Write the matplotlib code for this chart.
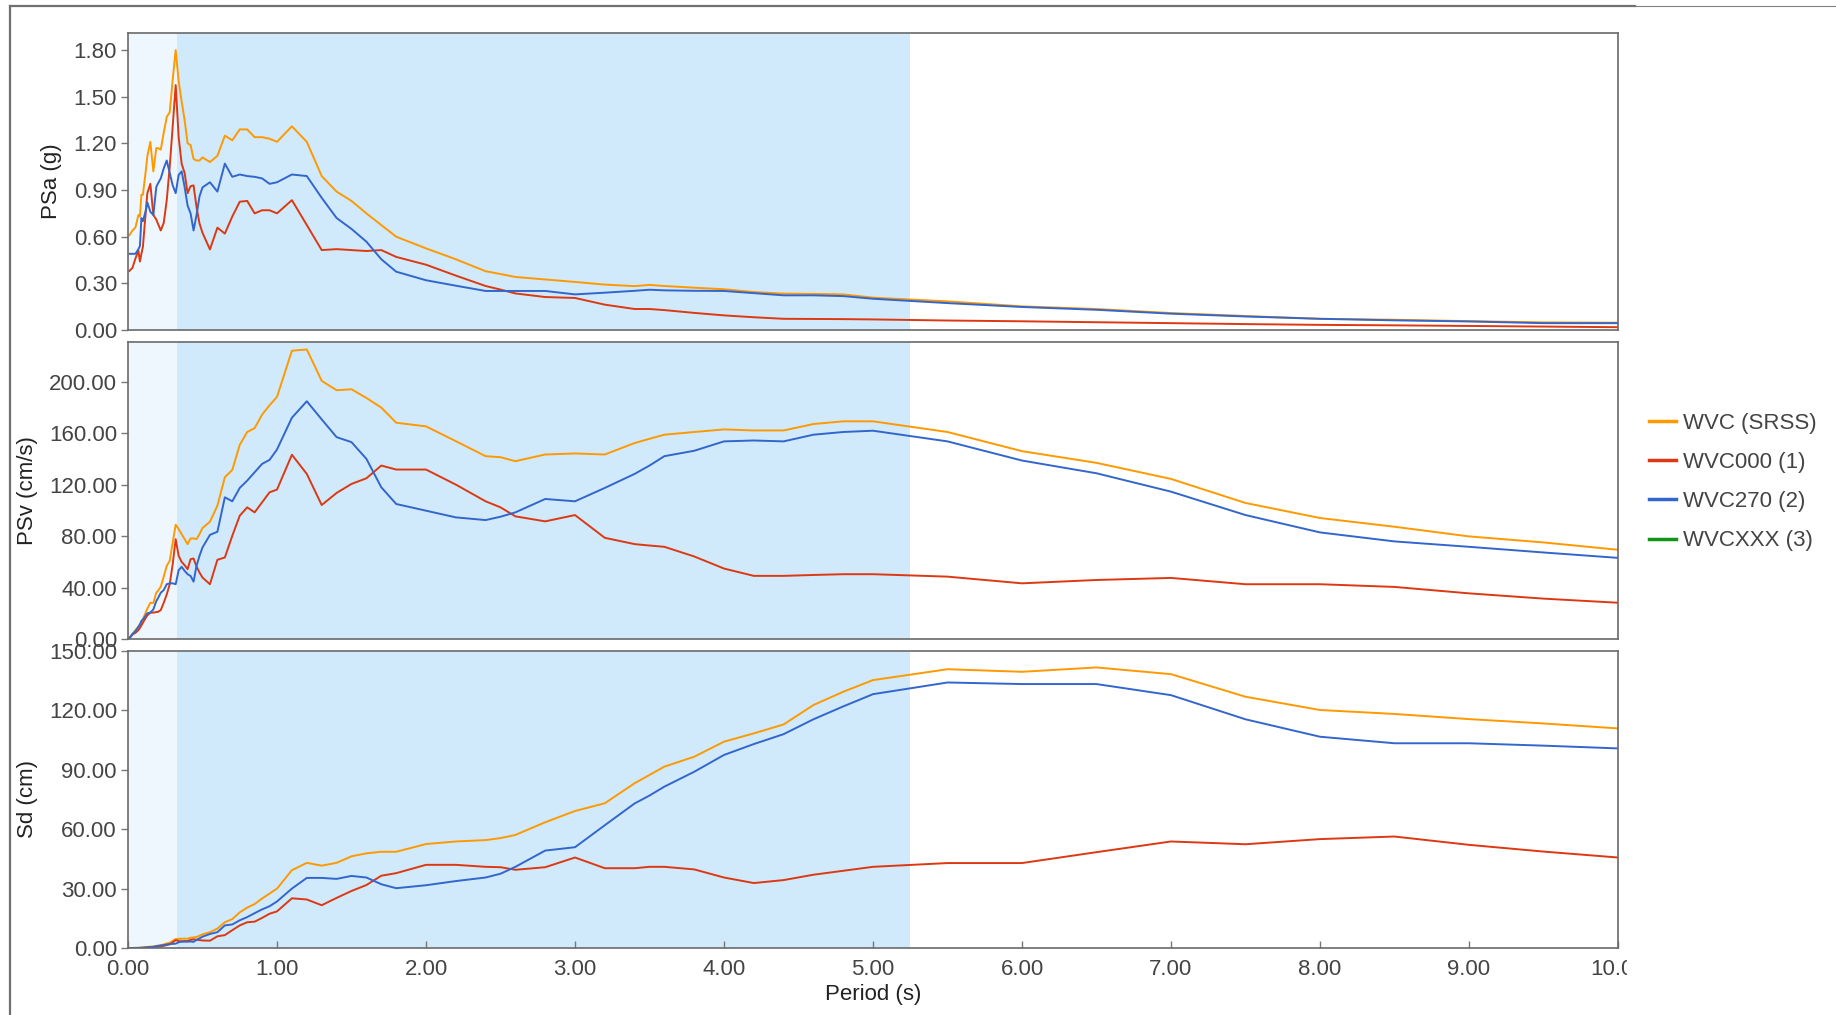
import matplotlib

matplotlib.use("Agg")
import matplotlib.pyplot as plt
from matplotlib.lines import Line2D
from matplotlib.transforms import Bbox, TransformedBbox

plt.rcParams["font.family"] = ["Liberation Sans", "DejaVu Sans"]

# periods (s) shared by every series
periods = [
    0.01, 0.03, 0.05, 0.07, 0.08, 0.09, 0.10, 0.12, 0.13, 0.15,
    0.17, 0.19, 0.20, 0.22, 0.24, 0.26, 0.28, 0.30, 0.32, 0.34,
    0.36, 0.38, 0.40, 0.42, 0.44, 0.46, 0.48, 0.50, 0.55, 0.60,
    0.65, 0.70, 0.75, 0.80, 0.85, 0.90, 0.95, 1.0, 1.1, 1.2,
    1.3, 1.4, 1.5, 1.6, 1.7, 1.8, 2.0, 2.2, 2.4, 2.5,
    2.6, 2.8, 3.0, 3.2, 3.4, 3.5, 3.6, 3.8, 4.0, 4.2,
    4.4, 4.6, 4.8, 5.0, 5.5, 6.0, 6.5, 7.0, 7.5, 8.0,
    8.5, 9.0, 9.5, 10.0,
]

# PSa (g)
psa_srss = [
    0.61, 0.64, 0.66, 0.74, 0.73, 0.87, 0.87, 1.03, 1.12, 1.21,
    1.02, 1.17, 1.17, 1.16, 1.27, 1.37, 1.40, 1.61, 1.80, 1.60,
    1.47, 1.35, 1.20, 1.19, 1.10, 1.09, 1.09, 1.11, 1.08, 1.12,
    1.25, 1.22, 1.29, 1.29, 1.24, 1.24, 1.23, 1.21, 1.31, 1.21,
    0.99, 0.89, 0.83, 0.75, 0.675, 0.60, 0.525, 0.455, 0.378, 0.36,
    0.341, 0.325, 0.309, 0.292, 0.282, 0.29, 0.283, 0.272, 0.262, 0.244,
    0.234, 0.232, 0.229, 0.208, 0.184, 0.152, 0.135, 0.109, 0.09, 0.072,
    0.066, 0.057, 0.049, 0.047,
]
psa_000 = [
    0.38, 0.40, 0.46, 0.51, 0.44, 0.49, 0.535, 0.77, 0.88, 0.94,
    0.74, 0.71, 0.686, 0.64, 0.69, 0.835, 1.05, 1.31, 1.575, 1.24,
    1.07, 1.01, 0.88, 0.925, 0.93, 0.79, 0.685, 0.625, 0.518, 0.658,
    0.62, 0.73, 0.825, 0.83, 0.75, 0.77, 0.77, 0.75, 0.835, 0.675,
    0.514, 0.52, 0.514, 0.508, 0.514, 0.47, 0.42, 0.35, 0.283, 0.26,
    0.235, 0.212, 0.206, 0.163, 0.135, 0.135, 0.128, 0.11, 0.094, 0.082,
    0.072, 0.071, 0.070, 0.068, 0.061, 0.056, 0.05, 0.044, 0.038, 0.033,
    0.03, 0.026, 0.022, 0.018,
]
psa_270 = [
    0.49, 0.49, 0.49, 0.52, 0.54, 0.72, 0.70, 0.77, 0.82, 0.76,
    0.74, 0.92, 0.94, 0.975, 1.04, 1.09, 1.01, 0.93, 0.88, 0.997,
    1.02, 0.92, 0.80, 0.75, 0.64, 0.74, 0.86, 0.917, 0.95, 0.89,
    1.07, 0.985, 1.00, 0.99, 0.985, 0.975, 0.94, 0.95, 1.00, 0.99,
    0.85, 0.72, 0.65, 0.568, 0.455, 0.375, 0.32, 0.285, 0.251, 0.251,
    0.251, 0.251, 0.229, 0.24, 0.252, 0.259, 0.255, 0.252, 0.251, 0.237,
    0.223, 0.223, 0.218, 0.201, 0.173, 0.148, 0.13, 0.105, 0.087, 0.072,
    0.062, 0.055, 0.044, 0.044,
]

# PSv (cm/s)
psv_srss = [
    0.9, 3.8, 7.0, 9.5, 11.3, 13.4, 15.2, 21.0, 23.6, 28.2,
    28.0, 36.0, 37.3, 40.7, 48.5, 56.9, 60.8, 75.0, 88.9, 85.5,
    81.6, 77.7, 73.8, 78.2, 78.2, 77.7, 81.6, 86.3, 91.2, 103.7,
    125.8, 131.5, 151.0, 161.0, 164.0, 174.5, 181.8, 188.3, 224.2, 225.2,
    200.8, 193.5, 194.2, 187.5, 180.0, 168.2, 165.4, 153.9, 142.2, 141.4,
    138.3, 143.5, 144.3, 143.5, 152.4, 155.7, 158.9, 161.0, 163.0, 162.2,
    162.2, 167.2, 169.3, 169.3, 161.0, 146.1, 137.0, 124.5, 105.8, 94.1,
    87.3, 79.8, 75.1, 69.4,
]
psv_000 = [
    0.6, 3.5, 4.8, 6.9, 8.7, 10.6, 12.7, 16.6, 18.4, 20.5,
    20.5, 21.0, 21.0, 22.5, 28.2, 34.7, 42.6, 58.2, 77.7, 64.7,
    60.0, 57.4, 54.3, 62.1, 62.6, 56.4, 51.7, 47.8, 42.6, 61.6,
    63.4, 80.3, 95.9, 102.4, 98.5, 106.3, 114.1, 116.2, 143.3, 128.4,
    104.2, 113.6, 120.6, 125.0, 134.9, 131.8, 131.8, 120.1, 107.1, 102.4,
    95.4, 91.5, 96.4, 78.7, 73.8, 72.7, 71.7, 64.2, 54.8, 49.1,
    49.1, 49.8, 50.4, 50.4, 48.5, 43.3, 45.9, 47.5, 42.6, 42.6,
    40.5, 35.5, 31.4, 28.2,
]
psv_270 = [
    0.8, 3.8, 6.1, 9.5, 11.3, 14.0, 15.2, 18.4, 20.0, 20.5,
    23.0, 29.5, 31.4, 36.0, 38.1, 42.6, 43.3, 43.3, 42.6, 53.5,
    56.1, 53.0, 50.4, 49.0, 44.6, 56.9, 64.7, 71.2, 81.0, 83.4,
    110.2, 107.1, 117.5, 123.2, 129.7, 136.2, 139.3, 147.4, 172.1, 184.9,
    170.8, 157.0, 153.1, 140.1, 118.0, 105.0, 99.8, 94.6, 92.5, 95.1,
    98.5, 108.9, 107.1, 117.5, 128.4, 134.9, 142.2, 146.4, 153.7, 154.4,
    153.7, 158.9, 161.0, 162.0, 153.7, 138.8, 128.9, 114.6, 96.4, 82.9,
    75.9, 71.7, 67.3, 63.1,
]

# Sd (cm)
sd_srss = [
    0.0, 0.01, 0.04, 0.09, 0.12, 0.17, 0.22, 0.37, 0.48, 0.68,
    0.73, 1.06, 1.18, 1.40, 1.83, 2.3, 2.7, 3.6, 4.5, 4.6,
    4.7, 4.7, 4.7, 5.2, 5.3, 5.6, 6.2, 6.9, 8.0, 9.8,
    13.0, 14.6, 18.0, 20.4, 22.2, 25.0, 27.5, 30.0, 39.3, 43.0,
    41.6, 43.0, 46.3, 47.8, 48.6, 48.6, 52.5, 53.8, 54.5, 55.5,
    57.1, 63.5, 69.2, 73.1, 83.2, 87.4, 91.6, 96.6, 104.2, 108.4,
    112.9, 122.7, 129.4, 135.3, 140.8, 139.5, 141.7, 138.3, 126.9, 120.2,
    118.2, 115.6, 113.4, 110.9,
]
sd_000 = [
    0.0, 0.01, 0.02, 0.04, 0.05, 0.07, 0.10, 0.22, 0.31, 0.40,
    0.55, 0.64, 0.67, 0.80, 1.10, 1.45, 1.9, 2.8, 4.0, 3.5,
    3.4, 3.5, 3.5, 4.1, 4.4, 4.1, 4.0, 3.8, 3.7, 5.9,
    6.5, 9.0, 11.4, 13.0, 13.3, 15.2, 17.3, 18.5, 25.1, 24.5,
    21.6, 25.3, 28.8, 31.8, 36.5, 37.8, 42.0, 42.0, 41.0, 40.8,
    39.5, 40.8, 45.7, 40.3, 40.3, 41.0, 41.0, 39.7, 35.6, 32.8,
    34.3, 37.0, 39.0, 41.0, 42.9, 42.9, 48.4, 53.8, 52.4, 55.0,
    56.3, 52.1, 48.7, 45.7,
]
sd_270 = [
    0.0, 0.01, 0.03, 0.06, 0.07, 0.13, 0.15, 0.27, 0.35, 0.45,
    0.60, 0.90, 1.00, 1.26, 1.46, 1.76, 1.93, 2.07, 2.17, 2.9,
    3.2, 3.2, 3.2, 3.3, 3.1, 4.1, 4.9, 5.7, 7.1, 8.0,
    11.4, 11.9, 14.0, 15.6, 17.6, 19.5, 21.1, 23.5, 30.0, 35.4,
    35.4, 34.9, 36.4, 35.6, 32.2, 30.2, 31.7, 33.8, 35.6, 37.5,
    41.0, 49.2, 50.9, 62.0, 73.0, 77.0, 81.5, 89.0, 97.5, 103.0,
    108.0, 115.5, 122.0, 128.2, 134.1, 133.3, 133.3, 127.7, 115.5, 106.7,
    103.4, 103.4, 102.2, 100.8,
]

series_names = ["WVC (SRSS)", "WVC000 (1)", "WVC270 (2)", "WVCXXX (3)"]
series_colors = ["#ff9900", "#dc3912", "#3366cc", "#109618"]

panels = [
    ("PSa (g)", [psa_srss, psa_000, psa_270], 1.91, [0, 0.3, 0.6, 0.9, 1.2, 1.5, 1.8]),
    ("PSv (cm/s)", [psv_srss, psv_000, psv_270], 231, [0, 40, 80, 120, 160, 200]),
    ("Sd (cm)", [sd_srss, sd_000, sd_270], 150, [0, 30, 60, 90, 120, 150]),
]

# shaded period bands
band_light = (0.0, 0.33)
band_dark = (0.33, 5.25)

W, H = 1836, 1015
fig = plt.figure(figsize=(W / 100, H / 100), dpi=100)

# outer frame lines
fig.add_artist(Line2D([10 / W, 1635 / W], [1 - 6 / H, 1 - 6 / H], color="#707070", lw=1.6))
fig.add_artist(Line2D([1635 / W, 1], [1 - 6 / H, 1 - 6 / H], color="#808080", lw=0.8))
fig.add_artist(Line2D([10 / W, 10 / W], [0, 1 - 6 / H], color="#707070", lw=1.6))

left, width = 128 / W, 1490 / W
tops = [33, 342, 651]
height = 297 / H
text_color = "#444444"
fsize = 16

axes = []
for (ylabel, values, ymax, yticks), top in zip(panels, tops):
    ax = fig.add_axes([left, 1 - top / H - height, width, height])
    ax.axvspan(*band_light, color="#eef6fe", lw=0, zorder=0)
    ax.axvspan(*band_dark, color="#d0e9fb", lw=0, zorder=0)
    for vals, color in zip(values, series_colors):
        ax.plot(periods, vals, color=color, lw=1.4, zorder=2)
    ax.set_xlim(0, 10)
    ax.set_ylim(0, ymax)
    ax.set_yticks(yticks)
    ax.set_yticklabels([f"{v:.2f}" for v in yticks])
    ax.set_ylabel(ylabel, fontsize=fsize, color="#222222", labelpad=8)
    ax.tick_params(axis="y", direction="out", length=5, width=1, color="#777777",
                   labelsize=fsize, labelcolor=text_color, pad=3)
    for spine in ax.spines.values():
        spine.set_color("#6a6a6a")
        spine.set_linewidth(1.2)
    axes.append(ax)

for ax in axes[:2]:
    ax.set_xticks([])

bottom_ax = axes[2]
xticks = list(range(0, 11))
bottom_ax.set_xticks(xticks)
bottom_ax.set_xticklabels([f"{v:.2f}" for v in xticks])
bottom_ax.tick_params(axis="x", direction="in", length=5, width=1, color="#777777",
                      labelsize=fsize, labelcolor=text_color, pad=8)
bottom_ax.set_xlabel("Period (s)", fontsize=fsize, color="#222222", labelpad=3)

# last tick label is cut at the chart edge
clip = TransformedBbox(Bbox([[0, 0], [1627 / W, 1]]), fig.transFigure)
for tick in bottom_ax.xaxis.get_major_ticks():
    tick.label1.set_clip_box(clip)
    tick.label1.set_clip_on(True)

handles = [Line2D([], [], color=c, lw=2.5) for c in series_colors]
fig.legend(handles, series_names, loc="center left", bbox_to_anchor=(1629 / W, 1 - 482 / H),
           frameon=False, fontsize=fsize, handlelength=1.2, handletextpad=0.32,
           labelspacing=0.82, labelcolor=text_color)

fig.savefig("out.png", dpi=100)
